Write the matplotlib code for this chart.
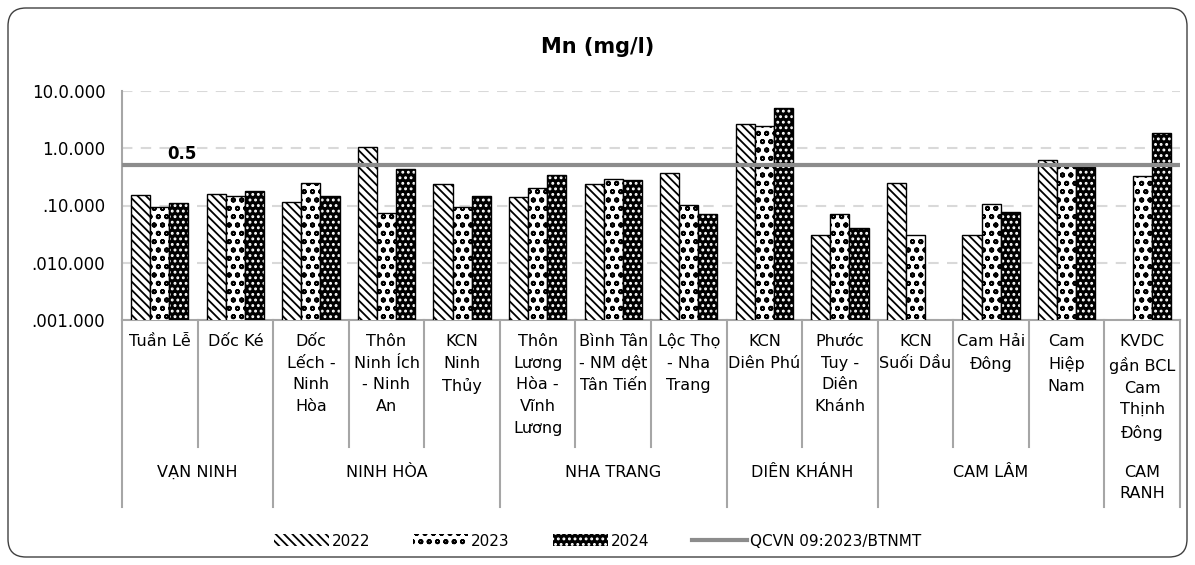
import numpy as np
import matplotlib
matplotlib.use("Agg")
import matplotlib.pyplot as plt
from matplotlib.patches import Patch, FancyBboxPatch
from matplotlib.lines import Line2D
from matplotlib.legend_handler import HandlerTuple
from matplotlib import transforms

plt.rcParams['font.family'] = ['DejaVu Sans']
plt.rcParams['hatch.linewidth'] = 1.3

# Dữ liệu
cats = ["Tuần Lễ", "Dốc Ké", "Dốc\nLếch -\nNinh\nHòa", "Thôn\nNinh Ích\n- Ninh\nAn",
        "KCN\nNinh\nThủy", "Thôn\nLương\nHòa -\nVĩnh\nLương", "Bình Tân\n- NM dệt\nTân Tiến",
        "Lộc Thọ\n- Nha\nTrang", "KCN\nDiên Phú", "Phước\nTuy -\nDiên\nKhánh",
        "KCN\nSuối Dầu", "Cam Hải\nĐông", "Cam\nHiệp\nNam", "KVDC\ngần BCL\nCam\nThịnh\nĐông"]
groups = ["VẠN NINH", "NINH HÒA", "NHA TRANG", "DIÊN KHÁNH", "CAM LÂM", "CAM\nRANH"]
group_sizes = [2, 3, 3, 2, 3, 1]

v2022 = [0.152, 0.162, 0.117, 1.05, 0.239, 0.14, 0.239, 0.368, 2.61, 0.0303, 0.249, 0.0303, 0.612, np.nan]
v2023 = [0.0935, 0.148, 0.246, 0.0734, 0.0935, 0.206, 0.285, 0.101, 2.44, 0.0724, 0.0303, 0.107, 0.53, 0.326]
v2024 = [0.11, 0.176, 0.148, 0.432, 0.148, 0.344, 0.278, 0.0705, 4.98, 0.0412, np.nan, 0.0764, 0.462, 1.84]
qcvn = 0.5

yticks = [0.001, 0.01, 0.1, 1, 10]
ytick_labels = [".001.000", ".010.000", ".10.000", "1.0.000", "10.0.000"]

W, H = 1195, 565
fig = plt.figure(figsize=(W / 100, H / 100), dpi=100)
ax = fig.add_axes([122 / W, 1 - 320 / H, (1180 - 122) / W, (320 - 91) / H])
ax.set_yscale('log')

x = np.arange(len(cats))
w = 0.253

# 2022: sọc chéo
ax.bar(x - w, v2022, w, color='white', edgecolor='black', hatch='\\\\\\\\', linewidth=1, zorder=3)
# 2023: chấm đen trên nền trắng
ax.bar(x, v2023, w, color='white', edgecolor='black', hatch='oo', linewidth=1, zorder=3)
# 2024: chấm trắng trên nền đen
ax.bar(x + w, v2024, w, color='black', edgecolor='white', hatch='...', linewidth=0, zorder=3)
ax.bar(x + w, v2024, w, fill=False, edgecolor='black', linewidth=1, zorder=3)

# Đường QCVN
ax.axhline(qcvn, color='#8c8c8c', linewidth=3, zorder=4)
ax.text(0.29, qcvn * 1.12, "0.5", fontsize=12, fontweight='bold', ha='center', va='bottom', zorder=5)

ax.set_xlim(-0.5, len(cats) - 0.5)
ax.set_ylim(0.001, 10)
ax.set_yticks(yticks)
ax.set_yticklabels(ytick_labels, fontsize=12)
ax.yaxis.set_minor_locator(matplotlib.ticker.NullLocator())
ax.tick_params(axis='y', length=0, pad=12)
ax.set_xticks([])
ax.grid(axis='y', which='major', color='#d9d9d9', linestyle=(0, (5, 4)), linewidth=1.5, zorder=0)
for s in ['top', 'right']:
    ax.spines[s].set_visible(False)
ax.spines['left'].set_color('#a6a6a6')
ax.spines['left'].set_linewidth(1.5)
ax.spines['bottom'].set_color('#a6a6a6')
ax.spines['bottom'].set_linewidth(1.5)

# Trục danh mục hai cấp
trans = transforms.blended_transform_factory(ax.transData, fig.transFigure)
fy = lambda py: 1 - py / H

bounds = np.cumsum([0] + group_sizes)
for k in range(len(cats) + 1):
    bottom = 507 if k in bounds else 447
    ax.plot([k - 0.5, k - 0.5], [fy(320), fy(bottom)], transform=trans,
            color='#a6a6a6', linewidth=1.5, clip_on=False)

for i, c in enumerate(cats):
    ax.text(i, fy(334), c, transform=trans, ha='center', va='top',
            fontsize=11.5, linespacing=1.56)

for g, s0, n in zip(groups, bounds[:-1], group_sizes):
    ax.text(s0 + (n - 1) / 2, fy(465), g, transform=trans, ha='center', va='top',
            fontsize=11.5, linespacing=1.5)

fig.text(0.5, fy(47), "Mn (mg/l)", fontsize=15, fontweight='bold', ha='center', va='center')

# Chú thích
h22 = Patch(facecolor='white', edgecolor='black', hatch='\\\\\\\\', linewidth=0)
h23 = Patch(facecolor='white', edgecolor='black', hatch='oo', linewidth=0)
h24 = (Patch(facecolor='black', edgecolor='white', hatch='...', linewidth=0),)
hq = Line2D([], [], color='#8c8c8c', linewidth=3)
fig.legend([h22, h23, h24, hq], ["2022", "2023", "2024", "QCVN 09:2023/BTNMT"],
           handler_map={tuple: HandlerTuple(ndivide=None)},
           loc='center', bbox_to_anchor=(0.5, fy(541)), ncol=4, frameon=False,
           fontsize=11, handlelength=3.6, handleheight=0.8, columnspacing=2.8,
           handletextpad=0.2)

# Khung bo tròn
fig.patches.append(FancyBboxPatch((8 / W, 1 - 557 / H), (1187 - 8) / W, (557 - 8) / H,
                                  boxstyle="round,pad=0,rounding_size=0.015",
                                  mutation_aspect=W / H, transform=fig.transFigure,
                                  facecolor='none', edgecolor='#404040', linewidth=1))

fig.savefig("out.png", dpi=100)
